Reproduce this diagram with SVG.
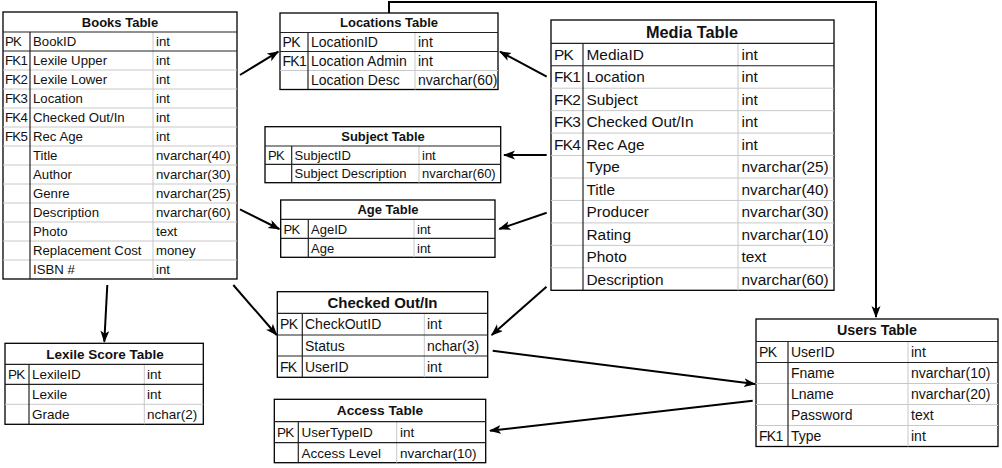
<svg xmlns="http://www.w3.org/2000/svg" width="1002" height="468" viewBox="0 0 1002 468">
<style>
text{font-family:"Liberation Sans",Arial,sans-serif;fill:#111}
.ttl{font-weight:bold;text-anchor:middle}
.box{fill:#fff;stroke:#000;stroke-width:1.3}
.dk{stroke:#222;stroke-width:1.2}
.lt{stroke:#c8c8c8;stroke-width:1}
.conn{stroke:#000;stroke-width:2;fill:none;marker-end:url(#ah)}
.k{letter-spacing:-0.7px}
.f13{font-size:13.2px}
.f14{font-size:14px}
.f135{font-size:13.5px}
.f15{font-size:15.4px}
</style>
<defs>
<marker id="ah" markerUnits="userSpaceOnUse" markerWidth="14" markerHeight="10" refX="11" refY="4.5" orient="auto" viewBox="0 0 14 10">
<path d="M0,0 L12,4.5 L0,9 L3,4.5 z" fill="#000"/>
</marker>
</defs>
<rect width="1002" height="468" fill="#fff"/>

<g id="books">
<rect class="box" x="3" y="12" width="234" height="267"/>
<g class="lt">
<line x1="153" y1="32" x2="153" y2="279"/>
<line x1="3" y1="70" x2="237" y2="70"/><line x1="3" y1="89" x2="237" y2="89"/><line x1="3" y1="108" x2="237" y2="108"/><line x1="3" y1="127" x2="237" y2="127"/><line x1="3" y1="146" x2="237" y2="146"/><line x1="3" y1="165" x2="237" y2="165"/><line x1="3" y1="184" x2="237" y2="184"/><line x1="3" y1="203" x2="237" y2="203"/><line x1="3" y1="222" x2="237" y2="222"/><line x1="3" y1="241" x2="237" y2="241"/><line x1="3" y1="260" x2="237" y2="260"/>
</g>
<g class="dk"><line x1="3" y1="32" x2="237" y2="32"/><line x1="3" y1="51" x2="237" y2="51"/><line x1="30" y1="32" x2="30" y2="279"/></g>
<text class="ttl" x="120" y="26.7" font-size="13">Books Table</text>
<g class="f13">
<text class="k" x="5" y="46.3">PK</text><text x="33" y="46.3">BookID</text><text x="156" y="46.3">int</text>
<text class="k" x="5" y="65.3">FK1</text><text x="33" y="65.3">Lexile Upper</text><text x="156" y="65.3">int</text>
<text class="k" x="5" y="84.3">FK2</text><text x="33" y="84.3">Lexile Lower</text><text x="156" y="84.3">int</text>
<text class="k" x="5" y="103.3">FK3</text><text x="33" y="103.3">Location</text><text x="156" y="103.3">int</text>
<text class="k" x="5" y="122.3">FK4</text><text x="33" y="122.3">Checked Out/In</text><text x="156" y="122.3">int</text>
<text class="k" x="5" y="141.3">FK5</text><text x="33" y="141.3">Rec Age</text><text x="156" y="141.3">int</text>
<text x="33" y="160.3">Title</text><text x="156" y="160.3">nvarchar(40)</text>
<text x="33" y="179.3">Author</text><text x="156" y="179.3">nvarchar(30)</text>
<text x="33" y="198.3">Genre</text><text x="156" y="198.3">nvarchar(25)</text>
<text x="33" y="217.3">Description</text><text x="156" y="217.3">nvarchar(60)</text>
<text x="33" y="236.3">Photo</text><text x="156" y="236.3">text</text>
<text x="33" y="255.3">Replacement Cost</text><text x="156" y="255.3">money</text>
<text x="33" y="274.3">ISBN #</text><text x="156" y="274.3">int</text>
</g>
</g>

<g id="locations">
<rect class="box" x="280" y="13" width="218" height="76.5"/>
<g class="lt"><line x1="415" y1="32.5" x2="415" y2="89.5"/><line x1="280" y1="70.5" x2="498" y2="70.5"/></g>
<g class="dk"><line x1="280" y1="32.5" x2="498" y2="32.5"/><line x1="280" y1="51.5" x2="498" y2="51.5"/><line x1="308" y1="32.5" x2="308" y2="89.5"/></g>
<text class="ttl" x="389" y="27.4" font-size="13">Locations Table</text>
<g class="f14">
<text class="k" x="282.5" y="47">PK</text><text x="311" y="47">LocationID</text><text x="418" y="47">int</text>
<text class="k" x="282.5" y="66">FK1</text><text x="311" y="66">Location Admin</text><text x="418" y="66">int</text>
<text x="311" y="85">Location Desc</text><text x="418" y="85">nvarchar(60)</text>
</g>
</g>

<g id="media">
<rect class="box" x="551" y="20" width="283" height="270.3"/>
<g class="lt">
<line x1="738" y1="43.3" x2="738" y2="290.3"/>
<line x1="551" y1="88.2" x2="834" y2="88.2"/><line x1="551" y1="110.65" x2="834" y2="110.65"/><line x1="551" y1="133.1" x2="834" y2="133.1"/><line x1="551" y1="155.55" x2="834" y2="155.55"/><line x1="551" y1="178" x2="834" y2="178"/><line x1="551" y1="200.45" x2="834" y2="200.45"/><line x1="551" y1="222.9" x2="834" y2="222.9"/><line x1="551" y1="245.35" x2="834" y2="245.35"/><line x1="551" y1="267.8" x2="834" y2="267.8"/>
</g>
<g class="dk"><line x1="551" y1="43.3" x2="834" y2="43.3"/><line x1="551" y1="65.75" x2="834" y2="65.75"/><line x1="583" y1="43.3" x2="583" y2="290.3"/></g>
<text class="ttl" x="692" y="37.5" font-size="16.3">Media Table</text>
<g class="f15">
<text class="k" x="554" y="60">PK</text><text x="586.5" y="60">MediaID</text><text x="741.5" y="60">int</text>
<text class="k" x="554" y="82.45">FK1</text><text x="586.5" y="82.45">Location</text><text x="741.5" y="82.45">int</text>
<text class="k" x="554" y="104.9">FK2</text><text x="586.5" y="104.9">Subject</text><text x="741.5" y="104.9">int</text>
<text class="k" x="554" y="127.35">FK3</text><text x="586.5" y="127.35">Checked Out/In</text><text x="741.5" y="127.35">int</text>
<text class="k" x="554" y="149.8">FK4</text><text x="586.5" y="149.8">Rec Age</text><text x="741.5" y="149.8">int</text>
<text x="586.5" y="172.25">Type</text><text x="741.5" y="172.25">nvarchar(25)</text>
<text x="586.5" y="194.7">Title</text><text x="741.5" y="194.7">nvarchar(40)</text>
<text x="586.5" y="217.15">Producer</text><text x="741.5" y="217.15">nvarchar(30)</text>
<text x="586.5" y="239.6">Rating</text><text x="741.5" y="239.6">nvarchar(10)</text>
<text x="586.5" y="262.05">Photo</text><text x="741.5" y="262.05">text</text>
<text x="586.5" y="284.5">Description</text><text x="741.5" y="284.5">nvarchar(60)</text>
</g>
</g>

<g id="subject">
<rect class="box" x="265" y="126.7" width="235.7" height="56"/>
<g class="lt"><line x1="419" y1="146" x2="419" y2="182.7"/></g>
<g class="dk"><line x1="265" y1="146" x2="500.7" y2="146"/><line x1="265" y1="164.3" x2="500.7" y2="164.3"/><line x1="291.7" y1="146" x2="291.7" y2="182.7"/></g>
<text class="ttl" x="383" y="141" font-size="13">Subject Table</text>
<g font-size="13">
<text class="k" x="268" y="159.9">PK</text><text x="294.5" y="159.9">SubjectID</text><text x="422" y="159.9">int</text>
<text x="294.5" y="178.2">Subject Description</text><text x="422" y="178.2">nvarchar(60)</text>
</g>
</g>

<g id="age">
<rect class="box" x="280.7" y="200" width="214.3" height="57.3"/>
<g class="lt"><line x1="414" y1="219.3" x2="414" y2="257.3"/></g>
<g class="dk"><line x1="280.7" y1="219.3" x2="495" y2="219.3"/><line x1="280.7" y1="238.3" x2="495" y2="238.3"/><line x1="308.3" y1="219.3" x2="308.3" y2="257.3"/></g>
<text class="ttl" x="388" y="214.3" font-size="13">Age Table</text>
<g font-size="13">
<text class="k" x="283.5" y="233.5">PK</text><text x="311" y="233.5">AgeID</text><text x="417" y="233.5">int</text>
<text x="311" y="252.5">Age</text><text x="417" y="252.5">int</text>
</g>
</g>

<g id="lexile">
<rect class="box" x="5" y="343.3" width="198.3" height="81"/>
<g class="lt"><line x1="144.3" y1="364.3" x2="144.3" y2="424.3"/><line x1="5" y1="404.3" x2="203.3" y2="404.3"/></g>
<g class="dk"><line x1="5" y1="364.3" x2="203.3" y2="364.3"/><line x1="5" y1="384.3" x2="203.3" y2="384.3"/><line x1="29" y1="364.3" x2="29" y2="424.3"/></g>
<text class="ttl" x="105" y="358.7" font-size="13.5">Lexile Score Table</text>
<g class="f135">
<text class="k" x="8" y="379.2">PK</text><text x="32" y="379.2">LexileID</text><text x="147" y="379.2">int</text>
<text x="32" y="399.2">Lexile</text><text x="147" y="399.2">int</text>
<text x="32" y="419.2">Grade</text><text x="147" y="419.2">nchar(2)</text>
</g>
</g>

<g id="checkedout">
<rect class="box" x="277.3" y="291.7" width="210.4" height="85.6"/>
<g class="lt"><line x1="424.3" y1="313.3" x2="424.3" y2="377.3"/></g>
<g class="dk"><line x1="277.3" y1="313.3" x2="487.7" y2="313.3"/><line x1="277.3" y1="335" x2="487.7" y2="335"/><line x1="277.3" y1="356" x2="487.7" y2="356"/><line x1="302.3" y1="313.3" x2="302.3" y2="377.3"/></g>
<text class="ttl" x="382.5" y="307.9" font-size="15">Checked Out/In</text>
<g class="f14">
<text class="k" x="280" y="329.1">PK</text><text x="305" y="329.1">CheckOutID</text><text x="427" y="329.1">int</text>
<text x="305" y="350.5">Status</text><text x="427" y="350.5">nchar(3)</text>
<text class="k" x="280" y="371.6">FK</text><text x="305" y="371.6">UserID</text><text x="427" y="371.6">int</text>
</g>
</g>

<g id="access">
<rect class="box" x="274.3" y="399.3" width="211.4" height="63.4"/>
<g class="lt"><line x1="396.7" y1="421.7" x2="396.7" y2="462.7"/></g>
<g class="dk"><line x1="274.3" y1="421.7" x2="485.7" y2="421.7"/><line x1="274.3" y1="442.7" x2="485.7" y2="442.7"/><line x1="298.3" y1="421.7" x2="298.3" y2="462.7"/></g>
<text class="ttl" x="380" y="415.4" font-size="13.7">Access Table</text>
<g class="f135">
<text class="k" x="277" y="437.1">PK</text><text x="301.5" y="437.1">UserTypeID</text><text x="400" y="437.1">int</text>
<text x="301.5" y="457.6">Access Level</text><text x="400" y="457.6">nvarchar(10)</text>
</g>
</g>

<g id="users">
<rect class="box" x="756" y="319" width="242" height="127.5"/>
<g class="lt"><line x1="908" y1="341.5" x2="908" y2="446.5"/><line x1="756" y1="383.5" x2="998" y2="383.5"/><line x1="756" y1="404.5" x2="998" y2="404.5"/><line x1="756" y1="425.5" x2="998" y2="425.5"/></g>
<g class="dk"><line x1="756" y1="341.5" x2="998" y2="341.5"/><line x1="756" y1="362.5" x2="998" y2="362.5"/><line x1="788" y1="341.5" x2="788" y2="446.5"/></g>
<text class="ttl" x="877" y="335.4" font-size="14.3">Users Table</text>
<g class="f14">
<text class="k" x="759" y="357">PK</text><text x="791" y="357">UserID</text><text x="911" y="357">int</text>
<text x="791" y="378">Fname</text><text x="911" y="378">nvarchar(10)</text>
<text x="791" y="399">Lname</text><text x="911" y="399">nvarchar(20)</text>
<text x="791" y="420">Password</text><text x="911" y="420">text</text>
<text class="k" x="759" y="441">FK1</text><text x="791" y="441">Type</text><text x="911" y="441">int</text>
</g>
</g>

<g id="connectors">
<line class="conn" x1="240" y1="75" x2="278.3" y2="51.7"/>
<line class="conn" x1="546.7" y1="76.7" x2="500" y2="51.7"/>
<line class="conn" x1="546.7" y1="155" x2="504" y2="155"/>
<line class="conn" x1="546.7" y1="212.7" x2="499.3" y2="229"/>
<line class="conn" x1="240" y1="209.3" x2="279.3" y2="229"/>
<line class="conn" x1="107.3" y1="285" x2="104.3" y2="341.7"/>
<line class="conn" x1="233.3" y1="285" x2="276.7" y2="335"/>
<line class="conn" x1="546.5" y1="286.7" x2="491.7" y2="335"/>
<line class="conn" x1="492.7" y1="350.7" x2="755" y2="384"/>
<line class="conn" x1="752.7" y1="400.7" x2="490" y2="430.7"/>
<path class="conn" d="M389,13 V2 H876 V317"/>
</g>
</svg>
